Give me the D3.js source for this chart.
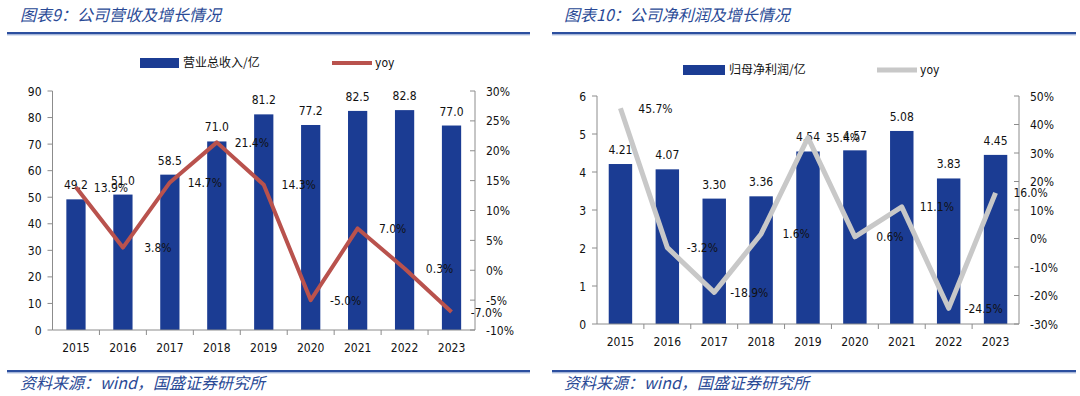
<!DOCTYPE html>
<html>
<head>
<meta charset="utf-8">
<script src="https://cdn.jsdelivr.net/npm/d3@7"></script>
<style>
  body { margin: 0; background: #fff; }
  svg { display: block; }
  .tick-label { font-family: "DejaVu Sans Condensed", "DejaVu Sans", sans-serif; font-size: 12px; fill: #111; }
  .title { font-family: "Noto Sans CJK SC", sans-serif; font-size: 16px; font-style: italic; fill: #2a4a96; }
  .legend { font-family: "Noto Sans CJK SC", sans-serif; font-size: 12px; fill: #111; }
</style>
</head>
<body>
<div id="chart"></div>
<script>
const years = ["2015", "2016", "2017", "2018", "2019", "2020", "2021", "2022", "2023"];

const revenue = [49.2, 51.0, 58.5, 71.0, 81.2, 77.2, 82.5, 82.8, 77.0];
const revenueYoy = [13.9, 3.8, 14.7, 21.4, 14.3, -5.0, 7.0, 0.3, -7.0];
const revenueTicks = [0, 10, 20, 30, 40, 50, 60, 70, 80, 90];
const revenueYoyTicks = [-10, -5, 0, 5, 10, 15, 20, 25, 30];

const profit = [4.21, 4.07, 3.30, 3.36, 4.54, 4.57, 5.08, 3.83, 4.45];
const profitYoy = [45.7, -3.2, -18.9, 1.6, 35.4, 0.6, 11.1, -24.5, 16.0];
const profitTicks = [0, 1, 2, 3, 4, 5, 6];
const profitYoyTicks = [-30, -20, -10, 0, 10, 20, 30, 40, 50];

const barColor = "#1b3c93";
const source = "资料来源：wind，国盛证券研究所";

const svg = d3.select("#chart")
  .append("svg")
  .attr("width", 1080)
  .attr("height", 396);

function drawPanel(cfg) {
  const g = svg.append("g");

  // title + rules
  g.append("text").attr("class", "title")
    .attr("x", cfg.titleX).attr("y", 21)
    .text(cfg.title);
  g.append("rect").attr("x", cfg.ruleX0).attr("y", 32).attr("width", cfg.ruleX1 - cfg.ruleX0).attr("height", 2.5).attr("fill", "#2c4f9f");
  g.append("rect").attr("x", cfg.ruleX0).attr("y", 34.5).attr("width", cfg.ruleX1 - cfg.ruleX0).attr("height", 1).attr("fill", "#b8c6e4");
  g.append("rect").attr("x", cfg.ruleX0).attr("y", 370).attr("width", cfg.ruleX1 - cfg.ruleX0).attr("height", 2.5).attr("fill", "#2c4f9f");
  g.append("rect").attr("x", cfg.ruleX0).attr("y", 372.5).attr("width", cfg.ruleX1 - cfg.ruleX0).attr("height", 1).attr("fill", "#b8c6e4");
  g.append("text").attr("class", "title")
    .attr("x", cfg.titleX).attr("y", 389)
    .text(source);

  const x = d3.scaleBand().domain(years).range([cfg.left, cfg.right]);
  const y = d3.scaleLinear().domain(d3.extent(cfg.ticks)).range([cfg.bottom, cfg.top]);
  const y2 = d3.scaleLinear().domain(d3.extent(cfg.yoyTicks)).range([cfg.bottom, cfg.top]);

  // bars
  const bw = x.bandwidth() * cfg.barRatio;
  g.selectAll("rect.bar").data(cfg.values).enter()
    .append("rect").attr("class", "bar")
    .attr("x", (d, i) => x(years[i]) + (x.bandwidth() - bw) / 2)
    .attr("y", d => y(d))
    .attr("width", bw)
    .attr("height", d => cfg.bottom - y(d))
    .attr("fill", barColor);

  g.selectAll("text.barval").data(cfg.values).enter()
    .append("text").attr("class", "tick-label")
    .attr("text-anchor", "middle")
    .attr("x", (d, i) => x(years[i]) + x.bandwidth() / 2)
    .attr("y", d => y(d) - 10)
    .text(d => d.toFixed(cfg.decimals));

  // axes
  const axisColor = "#8c8c8c";
  g.append("line").attr("x1", cfg.left).attr("x2", cfg.left).attr("y1", cfg.top).attr("y2", cfg.bottom).attr("stroke", axisColor);
  g.append("line").attr("x1", cfg.right).attr("x2", cfg.right).attr("y1", cfg.top).attr("y2", cfg.bottom).attr("stroke", axisColor);
  g.append("line").attr("x1", cfg.left).attr("x2", cfg.right).attr("y1", cfg.bottom).attr("y2", cfg.bottom).attr("stroke", axisColor);

  cfg.ticks.forEach(t => {
    g.append("line").attr("x1", cfg.left - 5).attr("x2", cfg.left).attr("y1", y(t)).attr("y2", y(t)).attr("stroke", axisColor);
    g.append("text").attr("class", "tick-label").attr("text-anchor", "end")
      .attr("x", cfg.left - 11).attr("y", y(t) + 4.5).text(t);
  });
  cfg.yoyTicks.forEach(t => {
    g.append("line").attr("x1", cfg.right - 5).attr("x2", cfg.right).attr("y1", y2(t)).attr("y2", y2(t)).attr("stroke", axisColor);
    g.append("text").attr("class", "tick-label").attr("text-anchor", "start")
      .attr("x", cfg.right + 11).attr("y", y2(t) + 4.5).text(t + "%");
  });
  years.forEach((yr, i) => {
    const bx = x(yr);
    if (i > 0) g.append("line").attr("x1", bx).attr("x2", bx).attr("y1", cfg.bottom).attr("y2", cfg.bottom + 5).attr("stroke", axisColor);
    g.append("text").attr("class", "tick-label").attr("text-anchor", "middle")
      .attr("x", bx + x.bandwidth() / 2).attr("y", cfg.bottom + 22).text(yr);
  });

  // yoy line
  const line = d3.line()
    .x((d, i) => x(years[i]) + x.bandwidth() / 2)
    .y(d => y2(d));
  g.append("path").datum(cfg.yoy)
    .attr("d", line)
    .attr("fill", "none")
    .attr("stroke", cfg.lineColor)
    .attr("stroke-width", cfg.lineWidth)
    .attr("stroke-linejoin", "round");

  g.selectAll("text.yoyval").data(cfg.yoy).enter()
    .append("text").attr("class", "tick-label")
    .attr("text-anchor", "middle")
    .attr("x", (d, i) => x(years[i]) + x.bandwidth() / 2 + 35)
    .attr("y", d => y2(d) + 4.5)
    .text(d => d.toFixed(1) + "%");

  // legend
  g.append("rect").attr("x", cfg.legend.sw).attr("y", cfg.legend.y - 5).attr("width", cfg.legend.swW).attr("height", 10).attr("fill", barColor);
  g.append("text").attr("class", "legend").attr("x", cfg.legend.sw + cfg.legend.swW + 4).attr("y", cfg.legend.y + 4).text(cfg.legend.label);
  g.append("line").attr("x1", cfg.legend.ln).attr("x2", cfg.legend.ln + 40).attr("y1", cfg.legend.y).attr("y2", cfg.legend.y)
    .attr("stroke", cfg.lineColor).attr("stroke-width", cfg.lineWidth);
  g.append("text").attr("class", "tick-label").attr("x", cfg.legend.ln + 43).attr("y", cfg.legend.y + 4).text("yoy");
}

drawPanel({
  title: "图表9：公司营收及增长情况",
  titleX: 20, ruleX0: 7, ruleX1: 530,
  left: 52.5, right: 475, top: 91, bottom: 330,
  values: revenue, yoy: revenueYoy, ticks: revenueTicks, yoyTicks: revenueYoyTicks,
  decimals: 1, barRatio: 0.41,
  lineColor: "#b9524d", lineWidth: 4,
  legend: { y: 63, sw: 140, swW: 39, ln: 332, label: "营业总收入/亿" }
});

drawPanel({
  title: "图表10：公司净利润及增长情况",
  titleX: 564, ruleX0: 552, ruleX1: 1076,
  left: 597, right: 1019, top: 96, bottom: 324,
  values: profit, yoy: profitYoy, ticks: profitTicks, yoyTicks: profitYoyTicks,
  decimals: 2, barRatio: 0.5,
  lineColor: "#c8c8c8", lineWidth: 5,
  legend: { y: 70, sw: 683, swW: 42, ln: 877, label: "归母净利润/亿" }
});
</script>
</body>
</html>
